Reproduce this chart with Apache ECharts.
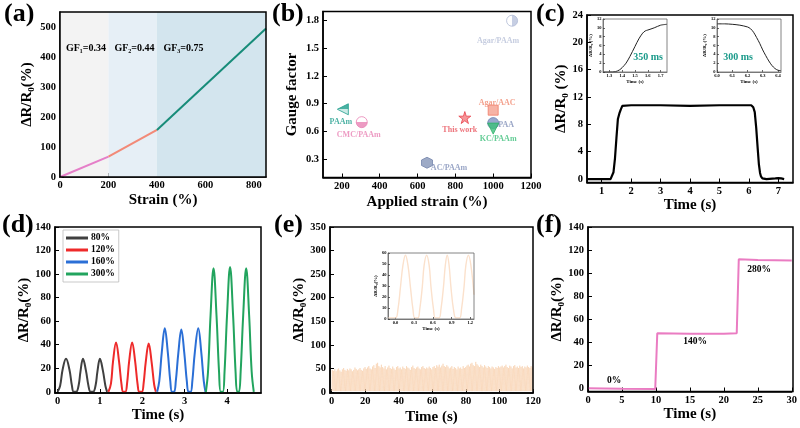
<!DOCTYPE html>
<html><head><meta charset="utf-8">
<script src="https://cdn.jsdelivr.net/npm/echarts@6/dist/echarts.min.js"></script>
<style>html,body{margin:0;padding:0;background:#fff}#c{width:800px;height:428px}</style>
</head><body><div id="c"></div><script>
// ---------- DATA ----------
// (a)
const aStrain = [0, 200, 400, 850];
const aResp = [0, 68, 157, 495];
const aRegions = [0, 200, 400, 850];
const aGF = ['GF\u2081=0.34', 'GF\u2082=0.44', 'GF\u2083=0.75'];
const aXTicks = [0, 200, 400, 600, 800];
const aYTicks = [0, 100, 200, 300, 400, 500];
// (b)
const bNames = ['PAAm', 'CMC/PAAm', 'AC/PAAm', 'This work', 'Agar/AAC', 'PAA', 'KC/PAAm', 'Agar/PAAm'];
const bStrain = [205, 305, 650, 850, 1000, 1000, 1000, 1100];
const bGF = [0.84, 0.70, 0.26, 0.75, 0.83, 0.69, 0.63, 1.80];
const bXTicks = [200, 400, 600, 800, 1000, 1200];
const bYTicks = [0.3, 0.6, 0.9, 1.2, 1.5, 1.8];
// (c)
const cTime = [0.5, 1.0, 1.3, 1.35, 1.4, 1.45, 1.5, 1.55, 1.6, 1.65, 1.7, 2.0, 3.0, 4.0, 5.0, 6.0, 6.08, 6.15, 6.2, 6.25, 6.3, 6.34, 6.38, 6.41, 6.46, 6.6, 6.9, 7.0, 7.1, 7.2];
const cResp = [0, 0, 0, 0.05, 1, 3, 6, 8.8, 9.6, 10.2, 10.7, 10.8, 10.8, 10.7, 10.8, 10.8, 10.8, 10.5, 9.8, 7.5, 4.5, 2.2, 0.9, 0.4, 0.1, 0, 0.1, 0.15, 0.1, 0];
const cXTicks = [1, 2, 3, 4, 5, 6, 7];
const cYTicks = [0, 4, 8, 12, 16, 20, 24];
const c1Time = [1.25, 1.3, 1.35, 1.38, 1.4, 1.43, 1.46, 1.5, 1.53, 1.56, 1.58, 1.6, 1.65, 1.7, 1.75];
const c1Resp = [0, 0, 0.1, 0.5, 1, 2, 3.5, 5.8, 7.5, 8.8, 9.3, 9.5, 10, 10.6, 10.8];
const c1XTicks = [1.3, 1.4, 1.5, 1.6, 1.7];
const c2Time = [6.0, 6.05, 6.1, 6.15, 6.2, 6.22, 6.24, 6.26, 6.28, 6.3, 6.32, 6.34, 6.36, 6.38, 6.4, 6.42];
const c2Resp = [10.9, 10.9, 10.8, 10.6, 10.2, 9.8, 9, 7.8, 6.5, 5, 3.7, 2.5, 1.5, 0.8, 0.4, 0.3];
const c2XTicks = [6.0, 6.1, 6.2, 6.3, 6.4];
const cInYTicks = [0, 2, 4, 6, 8, 10, 12];
const cInsetText = ['350 ms', '300 ms'];
// (d)
const dNames = ['80%', '120%', '160%', '300%'];
const d80 = [[0.0,0],[0.06,5],[0.12,19],[0.2,28],[0.28,19],[0.34,5],[0.38,0],[0.44,0],[0.5,6],[0.54,17],[0.6,28],[0.67,18],[0.73,5],[0.78,0],[0.84,0],[0.9,6],[0.94,17],[1.0,28],[1.07,18],[1.13,5],[1.17,0]];
const d120 = [[1.2,0],[1.26,7],[1.31,26],[1.38,42],[1.45,26],[1.51,6],[1.55,0],[1.6,0],[1.64,7],[1.69,26],[1.76,42],[1.83,26],[1.89,6],[1.93,0],[1.99,0],[2.03,7],[2.08,25],[2.15,41],[2.22,25],[2.28,6],[2.32,0]];
const d160 = [[2.35,0],[2.4,9],[2.46,34],[2.53,54],[2.6,34],[2.66,9],[2.7,0],[2.75,0],[2.79,9],[2.85,33],[2.92,53],[2.99,33],[3.05,9],[3.09,0],[3.14,0],[3.18,9],[3.24,34],[3.32,54],[3.39,34],[3.45,9],[3.49,0]];
const d300 = [[3.5,0],[3.55,17],[3.61,65],[3.68,105],[3.75,65],[3.81,17],[3.85,0],[3.9,0],[3.94,17],[4.0,66],[4.07,106],[4.14,66],[4.2,17],[4.24,0],[4.28,0],[4.32,17],[4.38,65],[4.45,105],[4.52,65],[4.58,17],[4.63,0]];
const dXTicks = [0, 1, 2, 3, 4];
const dYTicks = [0, 20, 40, 60, 80, 100, 120, 140];
// (e)
const ePeriod = 0.75; // s per cycle
const ePeaks = [47,45,49,44,48,50,46,43,48,51,47,45,49,46,50,48,44,47,52,49,46,48,51,47,45,50,53,
 49,52,55,50,48,54,57,51,60,62,55,52,58,
 53,50,55,48,52,56,51,49,54,50,47,53,55,50,52,48,54,51,49,55,52,50,47,53,56,51,49,52,54,50,48,53,55,51,49,52,50,54,51,48,
 53,55,51,57,54,58,52,56,60,55,53,57,54,50,52,55,49,53,51,48,54,50,52,49,55,51,53,
 56,58,54,60,62,57,55,64,59,56,53,58,55,52,57,54,51,55,53,50,54,52,49,53,51,55,52,
 54,56,52,55,58,53,51,56,54,50,55,57,52,54,51,56,53,55,50,54,52,56,53,51,55,52];
const eTrough = 2;
const eXTicks = [0, 20, 40, 60, 80, 100, 120];
const eYTicks = [0, 50, 100, 150, 200, 250, 300, 350];
const eInTime = [-0.12, 0.0, 0.04, 0.08, 0.12, 0.16, 0.2, 0.24, 0.28, 0.31, 0.36, 0.39, 0.43, 0.46, 0.5, 0.54, 0.57, 0.61, 0.64, 0.7, 0.73, 0.77, 0.8, 0.83, 0.86, 0.89, 0.93, 0.97, 1.03, 1.06, 1.1, 1.13, 1.17, 1.21, 1.26];
const eInResp = [1, 1, 9, 29, 49, 58, 49, 29, 9, 1, 1, 9, 29, 49, 58, 49, 29, 9, 1, 1, 9, 29, 49, 58, 49, 29, 9, 1, 1, 9, 29, 49, 58, 49, 22];
const eInXTicks = [0, 0.3, 0.6, 0.9, 1.2];
const eInYTicks = [0, 10, 20, 30, 40, 50, 60];
// (f)
const fTime = [0, 5, 9.9, 10.2, 15, 20, 21.9, 22.2, 25, 30];
const fResp = [0.3, -0.2, -0.3, 48, 47.5, 47.5, 48, 112, 111.5, 111];
const fLevels = ['0%', '140%', '280%'];
const fXTicks = [0, 5, 10, 15, 20, 25, 30];
const fYTicks = [0, 20, 40, 60, 80, 100, 120, 140];

// ---------- BUILD ----------
const F = '"Liberation Serif","Times New Roman",serif';
const grids = [], xAxes = [], yAxes = [], series = [], graphics = [];
const YN = '\u0394R/R\u2080(%)';
const plain = v => String(+(+v).toFixed(6));

function axis(gi, o, small, frameCol) {
  return {
    type: 'value', gridIndex: gi, min: o.min, max: o.max,
    name: o.name || '', nameLocation: 'middle', nameGap: o.gap || 0,
    nameTextStyle: {fontFamily: F, fontWeight: 'bold', fontSize: small ? 5 : 15, color: '#000'},
    axisLine: {show: true, onZero: false, lineStyle: {color: frameCol, width: small ? 0.8 : 1.5}},
    axisTick: {show: true, inside: true, length: small ? 2 : 4, customValues: o.ticks, lineStyle: {color: '#000', width: small ? 0.6 : 1}},
    axisLabel: {show: true, customValues: o.ticks, formatter: o.fmt || plain, margin: small ? 1.5 : (o.margin || 4),
      fontFamily: F, fontWeight: 'bold', fontSize: small ? 4.5 : 10.5, color: '#000'},
    splitLine: {show: false}
  };
}
function panel(box, xo, yo, small) {
  const gi = grids.length;
  const col = small ? '#666' : '#000';
  grids.push({left: box[0], top: box[1], width: box[2] - box[0], height: box[3] - box[1],
    show: true, borderWidth: 0, backgroundColor: small ? '#fff' : 'transparent'});
  xAxes.push(axis(gi, xo, small, col));
  yAxes.push(axis(gi, yo, small, col));
  graphics.push({type: 'rect', z: 100, silent: true,
    shape: {x: box[0], y: box[1], width: box[2] - box[0], height: box[3] - box[1]},
    style: {fill: 'none', stroke: col, lineWidth: small ? 0.8 : 1.5}});
  return gi;
}
function text(x, y, t, size, color, align) {
  graphics.push({type: 'text', x: x, y: y, z: 101, silent: true,
    style: {text: t, font: 'bold ' + size + 'px ' + F, fill: color || '#000',
      textAlign: align || 'center', textVerticalAlign: 'middle'}});
}
const zip = (xs, ys) => xs.map((x, i) => [x, ys[i]]);
const f1 = v => (+v).toFixed(1);

// (a)
const A = panel([60, 12, 266, 177],
  {min: 0, max: 850, ticks: aXTicks, name: 'Strain (%)', gap: 16, margin: 3},
  {min: 0, max: 550, ticks: aYTicks, name: YN, gap: 25});
const aCols = ['#e57fc8', '#f28a78', '#178c79'];
const aBg = ['#f3f3f3', '#e6eff6', '#d3e5ee'];
series.push({type: 'line', xAxisIndex: A, yAxisIndex: A, data: [], silent: true,
  markArea: {silent: true, data: aBg.map((c, i) => [{xAxis: aRegions[i], itemStyle: {color: c}}, {xAxis: aRegions[i + 1]}])}});
for (let i = 0; i < 3; i++) {
  series.push({type: 'line', xAxisIndex: A, yAxisIndex: A, symbol: 'none', z: 5,
    lineStyle: {color: aCols[i], width: 2}, data: [[aStrain[i], aResp[i]], [aStrain[i + 1], aResp[i + 1]]]});
}
text(86, 48, aGF[0], 10); text(134.5, 48, aGF[1], 10); text(183.5, 48, aGF[2], 10);

// (b)
const B = panel([323, 11.5, 531, 177.5],
  {min: 100, max: 1200, ticks: bXTicks, name: 'Applied strain (%)', gap: 17, margin: 3},
  {min: 0.1, max: 1.9, ticks: bYTicks, fmt: f1, name: 'Gauge factor', gap: 23});
const lg = (c1, c2, h) => ({type: 'linear', x: 0, y: 0, x2: h ? 1 : 0, y2: h ? 0 : 1,
  colorStops: [{offset: 0, color: c1}, {offset: 0.5, color: c1}, {offset: 0.5, color: c2}, {offset: 1, color: c2}]});
const star = 'path://M50,0 L61,35 L98,35 L68,57 L79,91 L50,70 L21,91 L32,57 L2,35 L39,35 Z';
const hex = 'path://M50,0 L93,25 L93,75 L50,100 L7,75 L7,25 Z';
const bStyle = [
  {sym: 'triangle', rot: 90, size: 11, fill: lg('#bfe6e0', '#1e9e8c', true), stroke: '#1e9e8c', lc: '#1e9e8c', off: [-2, 13]},
  {sym: 'circle', size: 11, fill: lg('#ffffff', '#e882b4'), stroke: '#e882b4', lc: '#e882b4', off: [-3, 13]},
  {sym: hex, size: 11, fill: '#8595b8', stroke: '#7485ab', lc: '#7f8fb8', off: [22, 5]},
  {sym: star, size: 12, fill: '#f47c80', stroke: '#e8404a', lc: '#e8505a', off: [-5, 12]},
  {sym: 'rect', size: 10, fill: '#f5a08e', stroke: '#f07a66', lc: '#f08a70', off: [4, -7]},
  {sym: 'circle', size: 11, fill: '#7f92c2', stroke: '#6f82b2', lc: '#7f8fb8', off: [13, 2]},
  {sym: 'triangle', rot: 180, size: 11, fill: '#3cbf7a', stroke: '#30b06c', lc: '#3cbf7a', off: [5, 10]},
  {sym: 'circle', size: 11, fill: lg('#ffffff', '#b8c2dc', true), stroke: '#b0bad4', lc: '#b8c0d8', off: [-14, 20]}
];
series.push({type: 'scatter', xAxisIndex: B, yAxisIndex: B, z: 5,
  data: bNames.map((n, i) => {
    const s = bStyle[i];
    return {name: n, value: [bStrain[i], bGF[i]], symbol: s.sym, symbolSize: s.size, symbolRotate: s.rot || 0,
      itemStyle: {color: s.fill, borderColor: s.stroke, borderWidth: 1},
      label: {show: true, position: 'inside', offset: s.off, formatter: n, color: s.lc,
        fontFamily: F, fontWeight: 'bold', fontSize: 8}};
  })});

// (c)
const C = panel([587, 15, 793, 182.5],
  {min: 0.5, max: 7.5, ticks: cXTicks, name: 'Time (s)', gap: 12, margin: 3},
  {min: -0.5, max: 24, ticks: cYTicks, name: '\u0394R/R\u2080 (%)', gap: 15});
series.push({type: 'line', xAxisIndex: C, yAxisIndex: C, symbol: 'none', lineStyle: {color: '#000', width: 2.2}, data: zip(cTime, cResp)});
const C1 = panel([603, 19, 667, 72],
  {min: 1.25, max: 1.75, ticks: c1XTicks, fmt: f1, name: 'Time (s)', gap: 5},
  {min: 0, max: 12, ticks: cInYTicks, name: '\u0394R/R\u2080 (%)', gap: 6}, true);
series.push({type: 'line', xAxisIndex: C1, yAxisIndex: C1, symbol: 'none', smooth: 0.3, lineStyle: {color: '#222', width: 1}, data: zip(c1Time, c1Resp)});
const C2 = panel([717, 19, 781, 72],
  {min: 6.0, max: 6.42, ticks: c2XTicks, fmt: f1, name: 'Time (s)', gap: 5},
  {min: 0, max: 12, ticks: cInYTicks, name: '\u0394R/R\u2080 (%)', gap: 6}, true);
series.push({type: 'line', xAxisIndex: C2, yAxisIndex: C2, symbol: 'none', smooth: 0.3, lineStyle: {color: '#222', width: 1}, data: zip(c2Time, c2Resp)});
text(648, 57, cInsetText[0], 10, '#1a9a8a'); text(738, 57, cInsetText[1], 10, '#1a9a8a');

// (d)
const D = panel([55, 227, 261, 393],
  {min: -0.06, max: 4.8, ticks: dXTicks, name: 'Time (s)', gap: 15, margin: 3},
  {min: -1, max: 140, ticks: dYTicks, name: YN, gap: 21});
const dCols = ['#404040', '#ee2a2a', '#2b6fd6', '#22a45e'];
[d80, d120, d160, d300].forEach((d, i) => {
  series.push({name: dNames[i], type: 'line', xAxisIndex: D, yAxisIndex: D, symbol: 'none', smooth: 0.4,
    color: dCols[i], lineStyle: {color: dCols[i], width: 2}, data: d});
});

// (e)
const E = panel([330, 227, 533, 393],
  {min: -1, max: 120, ticks: eXTicks, name: 'Time (s)', gap: 17, margin: 3},
  {min: -2, max: 350, ticks: eYTicks, name: YN, gap: 22});
const eData = [];
ePeaks.forEach((p, i) => { eData.push([i * ePeriod, eTrough]); eData.push([i * ePeriod + ePeriod / 2, p]); });
eData.push([ePeaks.length * ePeriod, eTrough]);
series.push({type: 'line', xAxisIndex: E, yAxisIndex: E, symbol: 'none', lineStyle: {color: '#f8cfab', width: 0.7, opacity: 0.8}, data: eData});
const E1 = panel([388, 253, 474, 319],
  {min: -0.12, max: 1.26, ticks: eInXTicks, fmt: f1, name: 'Time (s)', gap: 6},
  {min: 0, max: 60, ticks: eInYTicks, name: YN, gap: 7}, true);
series.push({type: 'line', xAxisIndex: E1, yAxisIndex: E1, symbol: 'none', smooth: 0.4, lineStyle: {color: '#fbe1cc', width: 1.4}, data: zip(eInTime, eInResp)});

// (f)
const Fp = panel([588, 227, 793, 391.5],
  {min: 0, max: 30, ticks: fXTicks, name: 'Time (s)', gap: 12, margin: 3},
  {min: -2.5, max: 140, ticks: fYTicks, name: YN, gap: 22});
series.push({type: 'line', xAxisIndex: Fp, yAxisIndex: Fp, symbol: 'none', lineStyle: {color: '#ea7cc2', width: 2}, data: zip(fTime, fResp)});
text(614, 381, fLevels[0], 9.5); text(695, 342, fLevels[1], 9.5); text(759, 270, fLevels[2], 9.5);

// panel letters
const letters = [['(a)', 4, 14], ['(b)', 272, 14], ['(c)', 536, 14], ['(d)', 2, 225], ['(e)', 274, 225], ['(f)', 536, 225]];
letters.forEach(l => text(l[1], l[2], l[0], 26, '#000', 'left'));

const chart = echarts.init(document.getElementById('c'), null, {renderer: 'canvas'});
chart.setOption({
  animation: false, backgroundColor: '#fff',
  grid: grids, xAxis: xAxes, yAxis: yAxes, series: series, graphic: graphics,
  legend: {data: dNames, orient: 'vertical', left: 63, top: 230, itemWidth: 22, itemHeight: 3, itemGap: 2,
    icon: 'rect', borderColor: '#bbb', borderWidth: 0.8, padding: [3, 4, 3, 3],
    textStyle: {fontFamily: F, fontWeight: 'bold', fontSize: 9.5, color: '#000', padding: [0, 0, 0, -2]}}
});
</script></body></html>
